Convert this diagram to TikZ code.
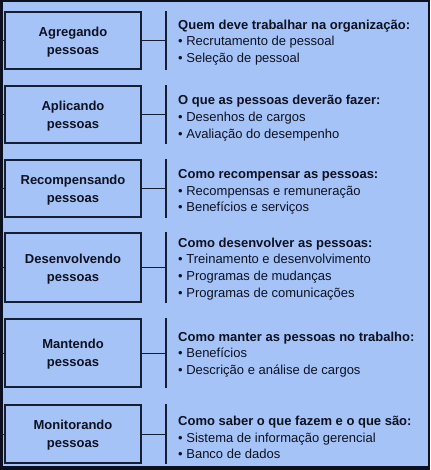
\documentclass[tikz,border=0pt]{standalone}
\usepackage{fontspec}
\setmainfont{Liberation Sans}
\definecolor{bgblue}{RGB}{165,195,247}
\definecolor{frame}{RGB}{12,16,32}
\definecolor{ink}{RGB}{22,30,52}
\definecolor{txt}{RGB}{14,18,34}
\begin{document}
\begin{tikzpicture}[x=1pt,y=-1pt,
  areabox/.style={draw=ink, line width=1.3pt, fill=bgblue, minimum width=136pt, inner sep=0pt,
    text depth=0pt, font=\bfseries\fontsize{13}{18}\selectfont, text=txt, align=center},
  grouptext/.style={anchor=west, inner sep=0pt, align=left, text=txt,
    font=\fontsize{13}{16.8}\selectfont},
  conn/.style={draw=ink, line width=1pt},
  bar/.style={draw=ink, line width=1.2pt}]
\useasboundingbox (0,0) rectangle (430,470);
\fill[frame] (0,0) rectangle (430,470);
\fill[bgblue] (3,2) rectangle (428,466);
% boxes
\node[areabox, minimum height=57pt] (b1) at (73,40.5) {Agregando\\pessoas};
\node[areabox, minimum height=57pt] (b2) at (73,114.5) {Aplicando\\pessoas};
\node[areabox, minimum height=57pt] (b3) at (73,188.5) {Recompensando\\pessoas};
\node[areabox, minimum height=69pt] (b4) at (73,267.5) {Desenvolvendo\\pessoas};
\node[areabox, minimum height=68pt] (b5) at (73,353) {Mantendo\\pessoas};
\node[areabox, minimum height=58pt] (b6) at (73,434) {Monitorando\\pessoas};
% bars
\foreach \i in {1,...,6}{
  \coordinate (bt\i) at (166,0 |- b\i.north);
  \coordinate (bb\i) at (166,0 |- b\i.south);
  \coordinate (bm\i) at (166,0 |- b\i.east);
  \coordinate (lm\i) at (1,0 |- b\i.west);
  \draw[bar] (bt\i) -- (bb\i);
  \draw[conn] (b\i.east) -- (bm\i);
  \draw[conn] (lm\i) -- (b\i.west);
}
% texts
\node[grouptext] (t1) at (178,42.5) {\textbf{Quem deve trabalhar na organização:}\\• Recrutamento de pessoal\\• Seleção de pessoal};
\node[grouptext] (t2) at (178,118) {\textbf{O que as pessoas deverão fazer:}\\• Desenhos de cargos\\• Avaliação do desempenho};
\node[grouptext] (t3) at (178,192) {\textbf{Como recompensar as pessoas:}\\• Recompensas e remuneração\\• Benefícios e serviços};
\node[grouptext] (t4) at (178,269) {\textbf{Como desenvolver as pessoas:}\\• Treinamento e desenvolvimento\\• Programas de mudanças\\• Programas de comunicações};
\node[grouptext] (t5) at (178,354.5) {\textbf{Como manter as pessoas no trabalho:}\\• Benefícios\\• Descrição e análise de cargos};
\node[grouptext] (t6) at (178,437.5) {\textbf{Como saber o que fazem e o que são:}\\• Sistema de informação gerencial\\• Banco de dados};
\end{tikzpicture}
\end{document}
